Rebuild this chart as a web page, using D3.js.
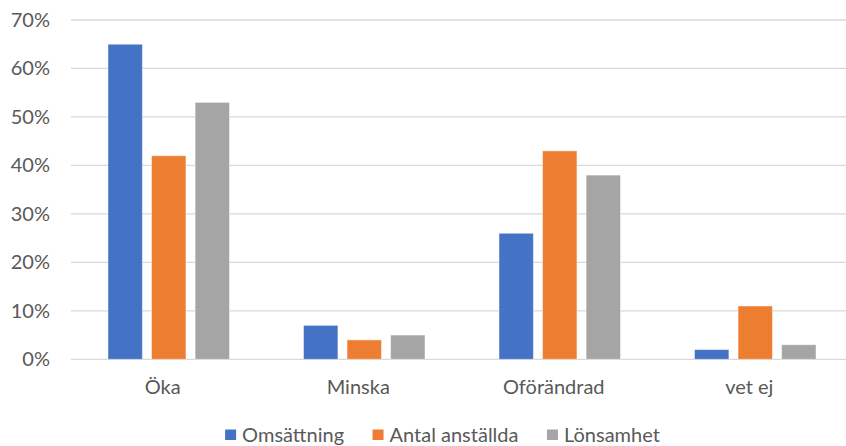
<!DOCTYPE html>
<html>
<head>
<meta charset="utf-8">
<script src="https://cdn.jsdelivr.net/npm/d3@7"></script>
<style>
  html, body { margin: 0; padding: 0; background: #fff; }
  svg { display: block; }
  text { font-family: Lato, "Open Sans", sans-serif; fill: #595959; }
</style>
</head>
<body>
<svg id="chart" width="846" height="446"></svg>
<script>
// Survey answers per category, share of respondents
const categories = ["Öka", "Minska", "Oförändrad", "vet ej"];
const seriesNames = ["Omsättning", "Antal anställda", "Lönsamhet"];
const omsattning = [0.65, 0.07, 0.26, 0.02];
const antalAnstallda = [0.42, 0.04, 0.43, 0.11];
const lonsamhet = [0.53, 0.05, 0.38, 0.03];
const yTicks = [0, 0.1, 0.2, 0.3, 0.4, 0.5, 0.6, 0.7];
const colors = ["#4472C4", "#ED7D31", "#A5A5A5"];

const seriesValues = [omsattning, antalAnstallda, lonsamhet];
const rows = categories.map((c, i) => ({
  category: c,
  values: seriesNames.map((s, j) => ({ series: s, value: seriesValues[j][i], color: colors[j] }))
}));

const svg = d3.select("#chart");
const plot = { left: 71, right: 853, top: 20, bottom: 359.3 };

const x0 = d3.scaleBand().domain(categories).range([plot.left, plot.right]).padding(0);
const x1 = d3.scaleBand().domain(seriesNames)
  .range([37, x0.bandwidth() - 37]).paddingInner(0.21).paddingOuter(0);
const y = d3.scaleLinear().domain([0, 0.7]).range([plot.bottom, plot.top]);

// Horizontal gridlines
svg.append("g").selectAll("line").data(yTicks).join("line")
  .attr("x1", plot.left).attr("x2", plot.right)
  .attr("y1", d => y(d)).attr("y2", d => y(d))
  .attr("stroke", "#D9D9D9").attr("stroke-width", 1.3);

// Y axis labels
const yAxis = d3.axisLeft(y).tickValues(yTicks).tickFormat(d3.format(".0%")).tickSize(0).tickPadding(0);
const yg = svg.append("g").attr("transform", `translate(50,0)`).call(yAxis);
yg.select(".domain").remove();
yg.selectAll("text").attr("font-size", 20).style("fill", "#595959")
  .style("font-family", "Lato, 'Open Sans', sans-serif");

// Bars
const groups = svg.append("g").selectAll("g").data(rows).join("g")
  .attr("transform", d => `translate(${x0(d.category)},0)`);
groups.selectAll("rect").data(d => d.values).join("rect")
  .attr("x", d => x1(d.series))
  .attr("width", x1.bandwidth())
  .attr("y", d => y(d.value))
  .attr("height", d => y(0) - y(d.value))
  .attr("fill", d => d.color)
  .attr("stroke", "#fff").attr("stroke-opacity", 0.45).attr("stroke-width", 1);

// X axis category labels
const xAxis = d3.axisBottom(x0).tickSize(0).tickPadding(0);
const xg = svg.append("g").attr("transform", `translate(-6,${plot.bottom})`).call(xAxis);
xg.select(".domain").remove();
xg.selectAll("text").attr("font-size", 20).attr("dy", null).attr("y", 35)
  .style("fill", "#595959").style("font-family", "Lato, 'Open Sans', sans-serif");

// Legend
const legend = svg.append("g");
const items = legend.selectAll("g").data(seriesNames).join("g");
items.append("rect").attr("width", 11).attr("height", 10.5).attr("y", 429.5)
  .attr("fill", (d, i) => colors[i]);
items.append("text").attr("x", 17).attr("y", 442).attr("font-size", 20).text(d => d);
const widths = [];
items.each(function () {
  widths.push(17 + this.querySelector("text").getComputedTextLength());
});
const spacing = 28.5;
const total = d3.sum(widths) + spacing * (widths.length - 1);
let cx = 442.5 - total / 2;
items.attr("transform", (d, i) => {
  const t = `translate(${cx},0)`;
  cx += widths[i] + spacing;
  return t;
});
</script>
</body>
</html>
